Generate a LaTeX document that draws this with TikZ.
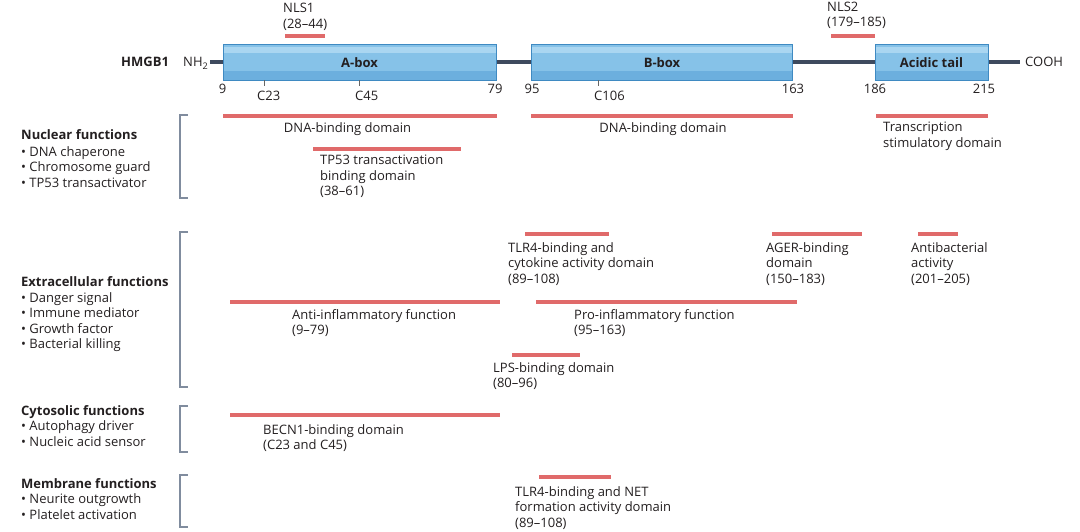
\documentclass[tikz,border=0pt]{standalone}
\usepackage{fontspec}
\setmainfont{Open Sans}
\usepackage{tikz}
\definecolor{barred}{RGB}{224,106,106}
\definecolor{boxmid}{RGB}{134,194,232}
\definecolor{boxlight}{RGB}{170,214,241}
\definecolor{boxdark}{RGB}{108,175,222}
\definecolor{boxline}{RGB}{63,138,194}
\definecolor{chain}{RGB}{62,74,94}
\definecolor{brgray}{RGB}{128,140,158}
\definecolor{txtgray}{RGB}{35,31,32}
\newcommand{\lblfont}{\fontsize{13}{15.5}\selectfont}

\begin{document}
\begin{tikzpicture}[x=1pt,y=-1pt,
  every node/.style={text=txtgray,font=\lblfont},
  lbl/.style={anchor=north west,inner sep=0pt,align=left,yshift=10.85pt,execute at begin node=\strut},
  num/.style={anchor=base,inner sep=0pt},
  domainbar/.style={draw=barred,line width=4.5pt},
  bracket/.style={draw=brgray,line width=1.2pt},
  tick/.style={draw=black!60,line width=0.8pt},
  domainbox/.style={draw=boxline,line width=0.8pt,fill=boxmid,minimum height=36.5pt,inner sep=0pt,
    font=\lblfont\bfseries,
    path picture={
      \fill[boxlight] ([yshift=-3pt]path picture bounding box.north west) rectangle ([yshift=-8.5pt]path picture bounding box.north east);
      \fill[boxdark] (path picture bounding box.south west) rectangle ([yshift=10pt]path picture bounding box.south east);
    }}]
\useasboundingbox (0,0) rectangle (1080,532);

% protein chain
\coordinate (nterm) at (210,62.3);
\coordinate (cterm) at (1020,62.3);
\draw[chain,line width=3.6pt] (nterm) -- (cterm);
\node[domainbox,minimum width=273pt] (abox) at (359.5,62.3) {A-box};
\node[domainbox,minimum width=261pt] (bbox) at (662,62.3) {B-box};
\node[domainbox,minimum width=113pt] (tail) at (931.5,62.3) {Acidic tail};
\node[anchor=west,inner sep=0pt,font=\lblfont\bfseries] (hmgb) at (121,62.3) {HMGB1};
\node[anchor=base west,inner sep=0pt] (nh) at (183,67) {NH\textsubscript{2}};
\node[anchor=base west,inner sep=0pt] (cooh) at (1025,67) {COOH};

% residue numbers
\node[num] (n9) at (222.7,94) {9};
\node[num] (n79) at (495,94) {79};
\node[num] (n95) at (532,94) {95};
\node[num] (n163) at (793,94) {163};
\node[num] (n186) at (875,94) {186};
\node[num] (n215) at (984,94) {215};
\draw[tick] (264,80.5) -- (264,86);
\draw[tick] (359,80.5) -- (359,86);
\draw[tick] (598,80.5) -- (598,86);
\node[anchor=base west,inner sep=0pt] (c23) at (257,101) {C23};
\node[anchor=base west,inner sep=0pt] (c45) at (355,101) {C45};
\node[anchor=base west,inner sep=0pt] (c106) at (594,101) {C106};

% nuclear localisation signals
\draw[domainbar] (285,36) -- (325,36);
\node[lbl] (nls1) at (283,14) {NLS1\\(28--44)};
\draw[domainbar] (831,36) -- (875,36);
\node[lbl] (nls2) at (827,12.5) {NLS2\\(179--185)};

% function groups
\node[lbl] (nucl) at (21,140.5) {\textbf{Nuclear functions}\\[1pt]\textbullet\ DNA chaperone\\\textbullet\ Chromosome guard\\\textbullet\ TP53 transactivator};
\node[lbl] (extra) at (21,287.3) {\textbf{Extracellular functions}\\\textbullet\ Danger signal\\\textbullet\ Immune mediator\\\textbullet\ Growth factor\\\textbullet\ Bacterial killing};
\node[lbl] (cyto) at (21,416) {\textbf{Cytosolic functions}\\\textbullet\ Autophagy driver\\\textbullet\ Nucleic acid sensor};
\node[lbl] (memb) at (21,489) {\textbf{Membrane functions}\\\textbullet\ Neurite outgrowth\\\textbullet\ Platelet activation};
\draw[bracket] (188,115) -- (180,115) -- (180,198) -- (188,198);
\draw[bracket] (188,232) -- (180,232) -- (180,387) -- (188,387);
\draw[bracket] (188,406) -- (180,406) -- (180,452) -- (188,452);
\draw[bracket] (188,475) -- (180,475) -- (180,527) -- (188,527);

% nuclear domains
\draw[domainbar] (223,116) -- (497,116);
\node[num] (dnaa) at (347.5,133) {DNA-binding domain};
\draw[domainbar] (531,116) -- (793,116);
\node[num] (dnab) at (663,133) {DNA-binding domain};
\draw[domainbar] (876,116) -- (988,116);
\node[lbl] (trans) at (883,133) {Transcription\\stimulatory domain};
\draw[domainbar] (313,149) -- (461,149);
\node[lbl] (tp53) at (320,166) {TP53 transactivation\\binding domain\\(38--61)};

% extracellular domains
\draw[domainbar] (525,234) -- (609,234);
\node[lbl] (tlrcyt) at (508,253) {TLR4-binding and\\cytokine activity domain\\(89--108)};
\draw[domainbar] (772,234) -- (862,234);
\node[lbl] (ager) at (766,253) {AGER-binding\\domain\\(150--183)};
\draw[domainbar] (918,234) -- (958,234);
\node[lbl] (antibac) at (911,253) {Antibacterial\\activity\\(201--205)};
\draw[domainbar] (230,302) -- (500,302);
\node[lbl] (antiinf) at (292,320) {Anti-inflammatory function\\(9--79)};
\draw[domainbar] (536,302) -- (797,302);
\node[lbl] (proinf) at (574,320) {Pro-inflammatory function\\(95--163)};
\draw[domainbar] (512,355) -- (580,355);
\node[lbl] (lps) at (493,373) {LPS-binding domain\\(80--96)};

% cytosolic and membrane domains
\draw[domainbar] (230,415) -- (500,415);
\node[lbl] (becn) at (263,435) {BECN1-binding domain\\(C23 and C45)};
\draw[domainbar] (539,477) -- (611,477);
\node[lbl] (tlrnet) at (515,497) {TLR4-binding and NET\\formation activity domain\\(89--108)};
\end{tikzpicture}
\end{document}
